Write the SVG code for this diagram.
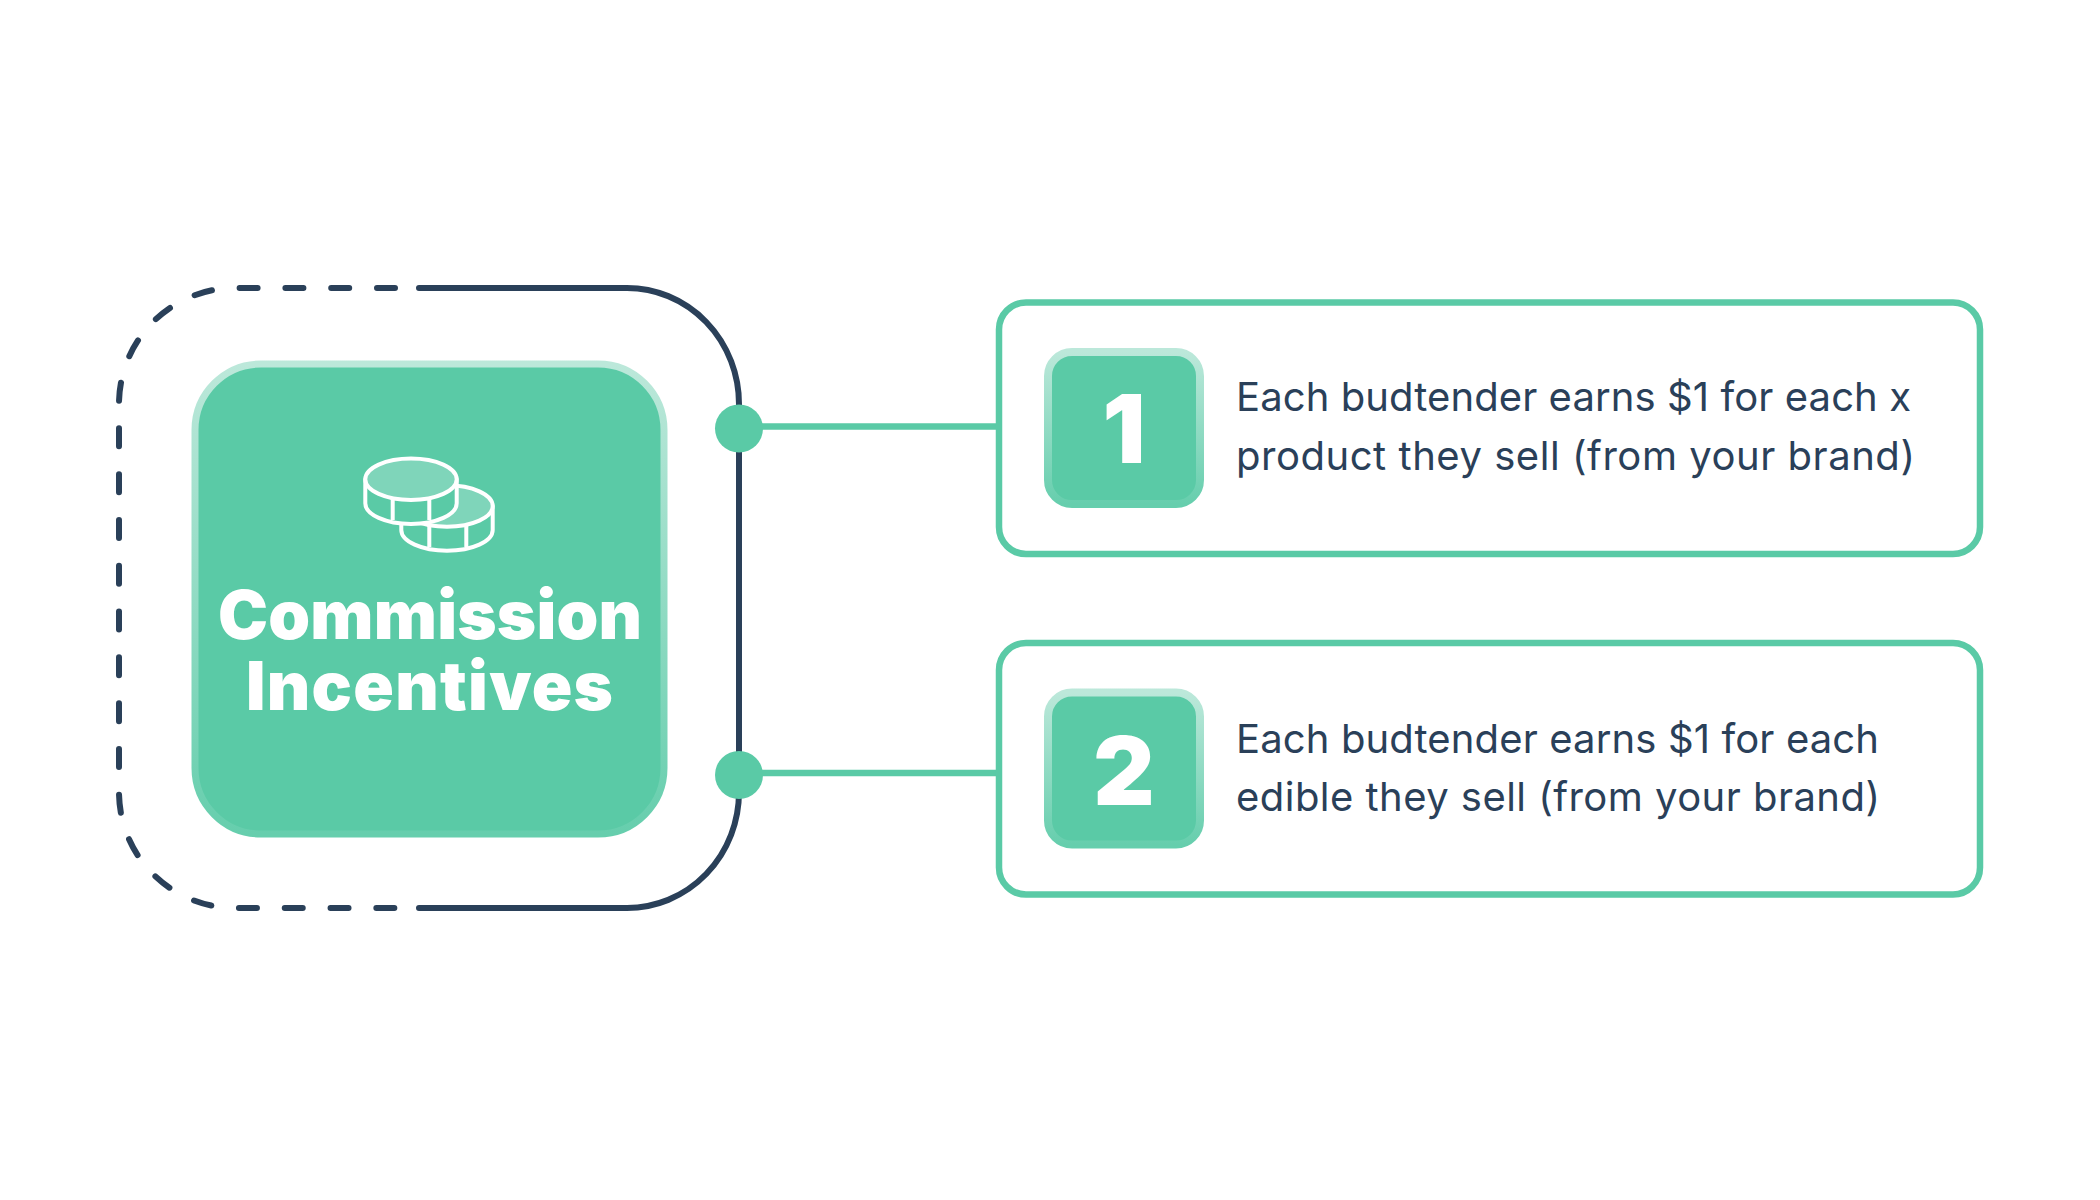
<svg xmlns="http://www.w3.org/2000/svg" width="2100" height="1200" viewBox="0 0 2100 1200">
<style>
.conn{fill:none;stroke:#5ACAA6;stroke-width:6.500}
.frame{fill:none;stroke:#2A4059;stroke-width:6;stroke-linecap:round}
.dot{fill:#5ACAA6}
.card{fill:#fff;stroke:#5ACAA6;stroke-width:6.500}
.badge{fill:#5ACAA6;stroke-width:8}
.num{font-family:"Inter","Liberation Sans",sans-serif;font-weight:900;font-size:95px;fill:#fff;text-anchor:middle}
.body{font-family:"Inter","Liberation Sans",sans-serif;font-weight:400;font-size:40px;fill:#2A4059}
.title{font-family:"Inter","Liberation Sans",sans-serif;font-weight:900;font-size:67px;fill:#fff}
.coin{fill:#5ACAA6;stroke:#fff;stroke-width:4;stroke-linejoin:round}
.face{fill:#7FD5BA;stroke:#fff;stroke-width:4}
.rib{fill:none;stroke:#fff;stroke-width:4}
</style>
<defs>
<linearGradient id="edge" x1="0" y1="0" x2="0" y2="1">
<stop offset="0" stop-color="#BCE8DA"/><stop offset="1" stop-color="#66CEAD"/>
</linearGradient>
</defs>
<rect width="2100" height="1200" fill="#fff"/>
<g id="connectors">
<path class="frame" d="M419 288H627A112 116 0 0 1 739 404V792A112 116 0 0 1 627 908H419"/>
<path class="frame" stroke-dasharray="18 27.800" d="M395 288H235A116 116 0 0 0 119 404V792A116 116 0 0 0 235 908H395"/>
<path class="conn" d="M739 426.500H996"/>
<path class="conn" d="M739 773H996"/>
<circle class="dot" cx="739" cy="428.500" r="24"/>
<circle class="dot" cx="739" cy="775" r="24"/>
</g>
<g id="node-main">
<rect x="195" y="364" width="469" height="470" rx="66" fill="#5ACAA6" stroke="url(#edge)" stroke-width="7"/>
<g id="coins">
<path class="coin" d="M401.300 506V530A45.700 20.700 0 0 0 492.700 530V506Z"/>
<ellipse class="face" cx="447" cy="506" rx="45.700" ry="20.700"/>
<path class="rib" d="M429.300 525V547M466.300 525V547"/>
<path class="coin" d="M365.300 479.300V503.300A45.700 20.700 0 0 0 456.700 503.300V479.300Z"/>
<ellipse class="face" cx="411" cy="479.300" rx="45.700" ry="20.700"/>
<path class="rib" d="M392.700 499V520M429.300 499V520"/>
</g>
<text class="title"><tspan x="218" y="639" textLength="424" lengthAdjust="spacing">Commission</tspan><tspan x="246" y="710" textLength="367" lengthAdjust="spacing">Incentives</tspan></text>
</g>
<g id="node-1">
<rect class="card" x="999" y="302.500" width="981" height="251.500" rx="27"/>
<rect class="badge" x="1048" y="352" width="152" height="152" rx="24" stroke="url(#edge)"/>
<text class="num" x="1124" y="463">1</text>
<text class="body" x="1236" y="410.500" textLength="675" lengthAdjust="spacing">Each budtender earns $1 for each x</text>
<text class="body" x="1236" y="470" textLength="679" lengthAdjust="spacing">product they sell (from your brand)</text>
</g>
<g id="node-2">
<rect class="card" x="999" y="643" width="981" height="251.500" rx="27"/>
<rect class="badge" x="1048" y="692.500" width="152" height="152" rx="24" stroke="url(#edge)"/>
<text class="num" x="1124" y="805">2</text>
<text class="body" x="1236" y="752.500" textLength="643" lengthAdjust="spacing">Each budtender earns $1 for each</text>
<text class="body" x="1236" y="810.500" textLength="644" lengthAdjust="spacing">edible they sell (from your brand)</text>
</g>
</svg>
